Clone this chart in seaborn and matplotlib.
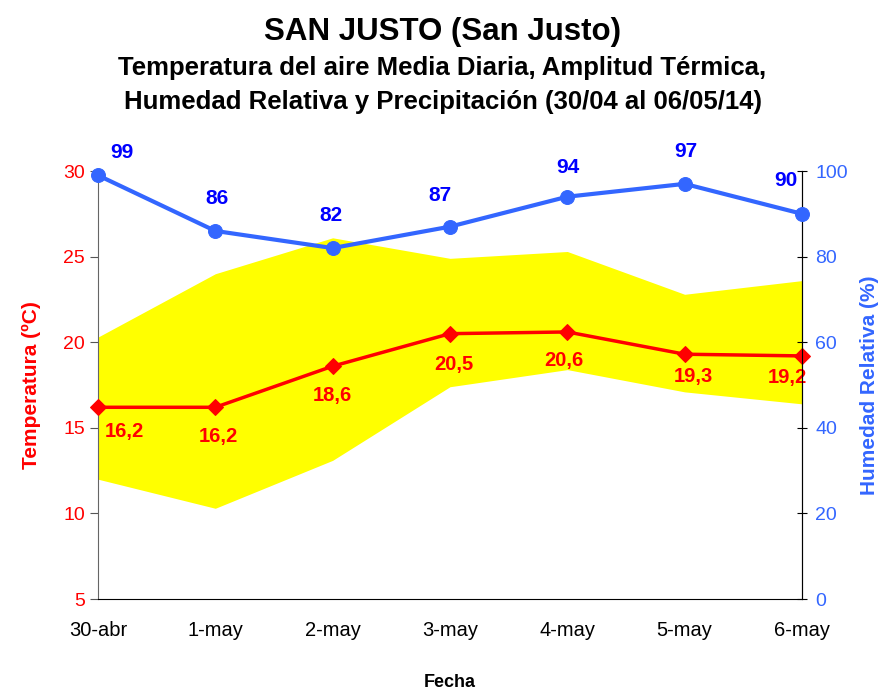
import numpy as np
import pandas as pd
import matplotlib
matplotlib.use("Agg")
import matplotlib.pyplot as plt
import seaborn as sns

# data
fechas = ["30-abr", "1-may", "2-may", "3-may", "4-may", "5-may", "6-may"]
t_media = [16.2, 16.2, 18.6, 20.5, 20.6, 19.3, 19.2]
t_max = [20.3, 24.0, 26.1, 24.9, 25.3, 22.8, 23.6]
t_min = [12.0, 10.3, 13.1, 17.4, 18.4, 17.1, 16.4]
humedad = [99, 86, 82, 87, 94, 97, 90]

sns.set_style("white")
plt.rcParams['font.family'] = ['Liberation Sans', 'DejaVu Sans']
plt.rcParams['text.color'] = 'black'
plt.rcParams['axes.labelcolor'] = 'black'
plt.rcParams['xtick.color'] = 'black'

df = pd.DataFrame({"x": np.arange(len(fechas)), "fecha": fechas, "tmed": t_media,
                   "tmax": t_max, "tmin": t_min, "hr": humedad})

rojo = "#FF0000"
azul_linea = "#3366FF"
azul_txt = "#0000FF"

fig = plt.figure(figsize=(8.85, 6.91), dpi=100)
ax = fig.add_axes([0.1107, 0.1331, 0.7955, 0.6194])
ax2 = ax.twinx()

# temperature range band
ax.fill_between(df["x"], df["tmin"], df["tmax"], color="#FFFF00", lw=0, zorder=1)
sns.lineplot(data=df, x="x", y="tmed", ax=ax, color=rojo, lw=2.5, marker="D",
             markersize=8, markeredgecolor=rojo, zorder=3, clip_on=False)

sns.lineplot(data=df, x="x", y="hr", ax=ax2, color=azul_linea, lw=3, marker="o",
             markersize=10, markeredgecolor=azul_linea, zorder=3, clip_on=False)

# value labels
t_off = [(26, -24), (3, -29), (0, -29), (4, -31), (-3, -29), (9, -22), (-15, -22)]
for i, v in enumerate(t_media):
    ax.annotate(f"{v:.1f}".replace(".", ","), (i, v), textcoords="offset pixels",
                xytext=t_off[i], ha="center", va="center", color=rojo,
                fontsize=14.5, fontweight="bold")
h_off = [(24, 23), (2, 32), (-2, 33), (-10, 31), (1, 29), (1, 32), (-16, 33)]
for i, v in enumerate(humedad):
    ax2.annotate(str(v), (i, v), textcoords="offset pixels", xytext=h_off[i],
                 ha="center", va="center", color=azul_txt, fontsize=15,
                 fontweight="bold")

ax.set_xlim(0, 6)
ax.set_ylim(5, 30)
ax2.set_ylim(0, 100)
ax.set_xticks(df["x"])
ax.set_xticklabels(fechas, fontsize=14.5)
ax.set_yticks([5, 10, 15, 20, 25, 30])
ax2.set_yticks([0, 20, 40, 60, 80, 100])
ax.tick_params(axis="y", colors=rojo, labelsize=14, length=6, direction="out")
ax.tick_params(axis="y", color="#555555")
ax.tick_params(axis="x", length=6, direction="out", color="#777777", pad=10)
ax2.tick_params(axis="y", labelcolor=azul_linea, labelsize=14, length=7,
                direction="inout", color="black", pad=6)

ax.set_xlabel("Fecha", fontsize=13, fontweight="bold", labelpad=24)
ax.set_ylabel("Temperatura (ºC)", color=rojo, fontsize=15, fontweight="bold", labelpad=16)
ax2.set_ylabel("Humedad Relativa (%)", color=azul_linea, fontsize=15, fontweight="bold", labelpad=9)

for a in (ax, ax2):
    a.spines["top"].set_visible(False)
ax.spines["left"].set_color("#666666")
ax.spines["bottom"].set_color("black")
ax2.spines["right"].set_color("black")
ax2.spines["left"].set_visible(False)
ax2.spines["bottom"].set_visible(False)
ax.grid(False)
ax2.grid(False)

fig.text(0.5, 0.953, "SAN JUSTO (San Justo)", ha="center", va="center",
         fontsize=22.5, fontweight="bold")
fig.text(0.5, 0.902, "Temperatura del aire Media Diaria, Amplitud Térmica,",
         ha="center", va="center", fontsize=18.5, fontweight="bold")
fig.text(0.5, 0.853, "Humedad Relativa y Precipitación (30/04 al 06/05/14)",
         ha="center", va="center", fontsize=18.5, fontweight="bold")

fig.savefig("out.png", dpi=100)
